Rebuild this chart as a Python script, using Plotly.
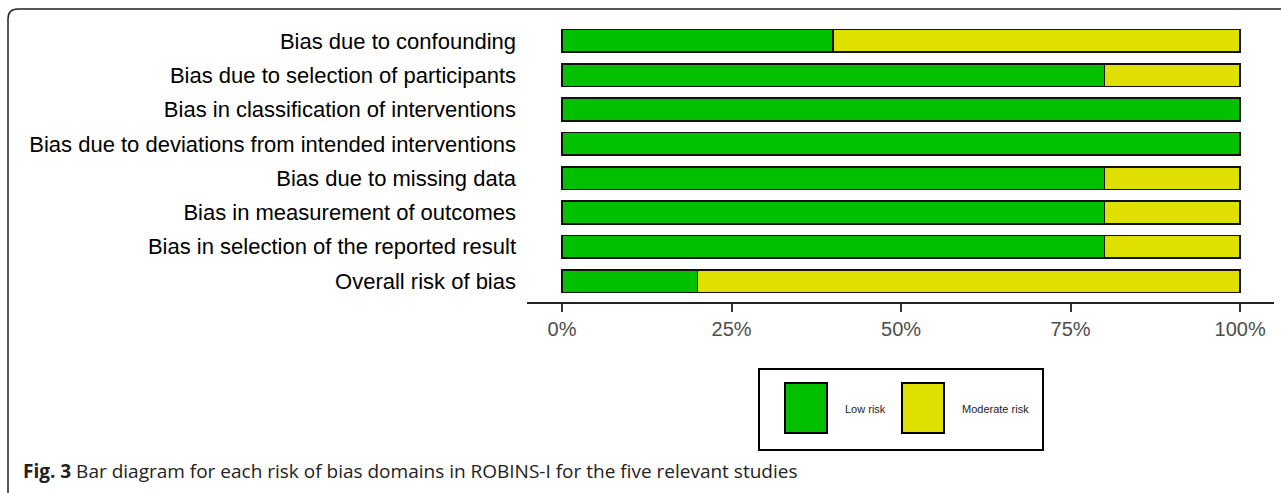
import plotly.graph_objects as go

domains = [
    "Bias due to confounding",
    "Bias due to selection of participants",
    "Bias in classification of interventions",
    "Bias due to deviations from intended interventions",
    "Bias due to missing data",
    "Bias in measurement of outcomes",
    "Bias in selection of the reported result",
    "Overall risk of bias",
]
low_risk = [40, 80, 100, 100, 80, 80, 80, 20]
moderate_risk = [60, 20, 0, 0, 20, 20, 20, 80]
tick_vals = [0, 25, 50, 75, 100]
tick_text = ["0%", "25%", "50%", "75%", "100%"]
series_names = ["Low risk", "Moderate risk"]
colors = ["#00C000", "#E0E000"]

W, H = 1281, 493
def px(x):
    return x / W
def py(y):
    return 1 - y / H

fig = go.Figure()
for name, vals, col in zip(series_names, [low_risk, moderate_risk], colors):
    fig.add_trace(go.Bar(
        y=domains, x=vals, name=name, orientation="h",
        marker=dict(color=col, line=dict(color="#111111", width=1.6)),
        width=0.66, showlegend=False,
    ))

fig.update_layout(
    barmode="stack",
    width=W, height=H,
    margin=dict(l=0, r=0, t=0, b=0),
    paper_bgcolor="white", plot_bgcolor="white",
    font=dict(family="Liberation Sans, Arial, sans-serif", color="black"),
    xaxis=dict(
        domain=[px(527), px(1274)],
        range=[-5.16, 105.0],
        tickvals=tick_vals, ticktext=tick_text,
        showgrid=False, zeroline=False,
        showline=True, linecolor="#222222", linewidth=2,
        ticks="outside", ticklen=8, tickwidth=1.5, tickcolor="#333333",
        tickfont=dict(size=20, color="#4d4d4d"),
        fixedrange=True,
    ),
    yaxis=dict(
        domain=[py(302), py(20)],
        range=[7.61, -0.61],
        categoryorder="array", categoryarray=domains,
        showgrid=False, zeroline=False, showline=False,
        ticks="", tickfont=dict(size=22, color="black"),
        ticklabelstandoff=10,
        fixedrange=True,
    ),
)

shapes = []
r = 10
shapes.append(dict(
    type="path", xref="paper", yref="paper",
    path=f"M {px(8)},{py(493)} L {px(8)},{py(9 + r)} Q {px(8)},{py(9)} {px(8 + r)},{py(9)} L {px(1281)},{py(9)}",
    line=dict(color="#222222", width=1.5),
))
shapes.append(dict(type="rect", xref="paper", yref="paper",
                   x0=px(759), x1=px(1043), y0=py(450), y1=py(369),
                   line=dict(color="black", width=2), fillcolor="white"))
for (x0, x1), col in zip([(785, 827), (902, 944)], colors):
    shapes.append(dict(type="rect", xref="paper", yref="paper",
                       x0=px(x0), x1=px(x1), y0=py(433), y1=py(383),
                       line=dict(color="black", width=2), fillcolor=col))
fig.update_layout(shapes=shapes)

annotations = [
    dict(x=px(843), y=py(409), xref="paper", yref="paper", text=series_names[0],
         showarrow=False, xanchor="left", yanchor="middle",
         font=dict(size=11, color="#222222")),
    dict(x=px(960), y=py(409), xref="paper", yref="paper", text=series_names[1],
         showarrow=False, xanchor="left", yanchor="middle",
         font=dict(size=11, color="#222222")),
    dict(x=px(21), y=py(471), xref="paper", yref="paper",
         text="<b>Fig. 3</b> Bar diagram for each risk of bias domains in ROBINS-I for the five relevant studies",
         showarrow=False, xanchor="left", yanchor="middle",
         font=dict(family="Open Sans, Noto Sans, sans-serif", size=19, color="#222222")),
]
fig.update_layout(annotations=annotations)

fig.write_html("out.html", config={"displayModeBar": False},
               post_script="document.body.style.margin='0';document.body.style.overflow='hidden';")
